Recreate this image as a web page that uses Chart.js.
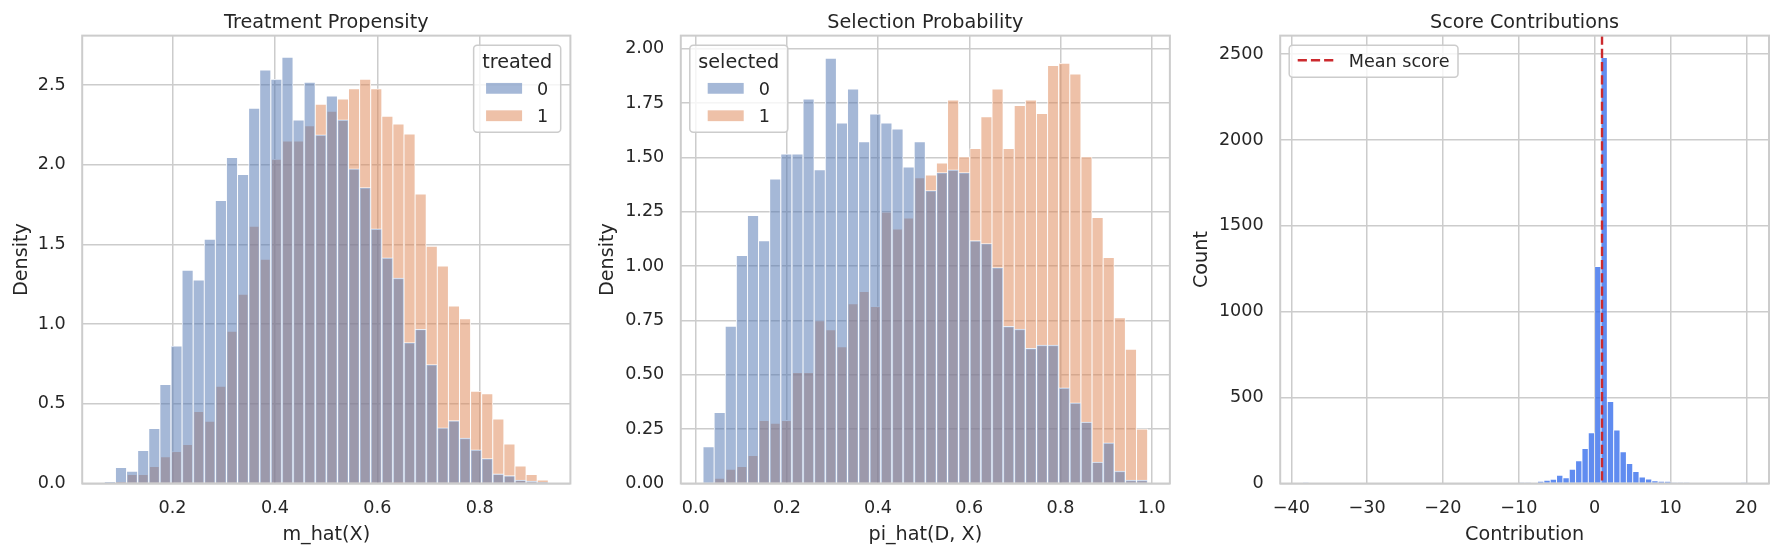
<!DOCTYPE html>
<html>
<head>
<meta charset="utf-8">
<title>Propensity diagnostics</title>
<script src="https://cdn.jsdelivr.net/npm/chart.js@4.4.1/dist/chart.umd.min.js"></script>
<style>
    html, body { margin: 0; padding: 0; background: #ffffff; }
    body { width: 1780px; height: 556px; position: relative; overflow: hidden; }
    canvas { position: absolute; top: 0; }
</style>
</head>
<body>
<canvas id="treat-chart" width="585" height="556" style="left:0px"></canvas>
<canvas id="select-chart" width="595" height="556" style="left:585px"></canvas>
<canvas id="score-chart" width="600" height="556" style="left:1180px"></canvas>
<script>
// ---- Treatment propensity: density histogram, 40 common bins ----
const treatBinStart = 0.0672;
const treatBinWidth = 0.02166;
const treated0 = [0.010, 0.100, 0.076, 0.207, 0.345, 0.621, 0.862, 1.338, 1.276, 1.532,
                  1.776, 2.046, 1.939, 2.355, 2.594, 2.536, 2.674, 2.280, 2.518, 2.188,
                  2.431, 2.282, 1.975, 1.857, 1.598, 1.416, 1.289, 0.884, 0.968, 0.746,
                  0.350, 0.394, 0.285, 0.211, 0.156, 0.060, 0.049, 0.022, 0.015, 0.008];
const treated1 = [0.000, 0.010, 0.056, 0.056, 0.107, 0.167, 0.200, 0.245, 0.452, 0.390,
                  0.610, 0.955, 1.187, 1.614, 1.407, 2.035, 2.148, 2.148, 2.244, 2.380,
                  2.335, 2.413, 2.476, 2.536, 2.476, 2.304, 2.255, 2.193, 1.817, 1.489,
                  1.365, 1.113, 1.033, 0.579, 0.563, 0.405, 0.247, 0.109, 0.056, 0.022];
const treatXTicks = [0.2, 0.4, 0.6, 0.8];
const treatYTicks = [0, 0.5, 1.0, 1.5, 2.0, 2.5];

// ---- Selection probability: density histogram, 40 common bins ----
const selBinStart = 0.016;
const selBinWidth = 0.02438;
const selected0 = [0.169, 0.326, 0.723, 1.049, 1.233, 1.116, 1.401, 1.516, 1.516, 1.769,
                   1.443, 1.956, 1.658, 1.814, 1.572, 1.700, 1.658, 1.630, 1.456, 1.572,
                   1.347, 1.430, 1.443, 1.430, 1.117, 1.104, 0.993, 0.723, 0.710, 0.622,
                   0.637, 0.637, 0.440, 0.371, 0.283, 0.099, 0.187, 0.057, 0.016, 0.016];
const selected1 = [0.000, 0.024, 0.065, 0.078, 0.129, 0.290, 0.277, 0.290, 0.510, 0.510,
                   0.749, 0.707, 0.629, 0.827, 0.883, 0.814, 1.249, 1.171, 1.221, 1.406,
                   1.419, 1.474, 1.764, 1.503, 1.541, 1.687, 1.814, 1.541, 1.738, 1.764,
                   1.702, 1.922, 1.933, 1.883, 1.503, 1.223, 1.039, 0.762, 0.617, 0.251];
const selXTicks = [0.0, 0.2, 0.4, 0.6, 0.8, 1.0];
const selYTicks = [0, 0.25, 0.5, 0.75, 1.0, 1.25, 1.5, 1.75, 2.0];

// ---- Score contributions: count histogram, 70 bins ----
const scoreBinStart = -38.5;
const scoreBinWidth = 0.8371;
const scoreCounts = [
    1, 0, 0, 0, 0, 0, 0, 0, 0, 0,
    0, 0, 0, 0, 0, 0, 0, 0, 0, 0,
    0, 0, 0, 0, 0, 0, 0, 0, 0, 0,
    0, 0, 0, 0, 4, 4, 0, 13, 19, 24,
    48, 34, 83, 133, 203, 296, 1263, 2480, 477, 312,
    185, 117, 69, 38, 26, 16, 13, 11, 4, 4,
    4, 0, 0, 0, 0, 0, 0, 0, 0, 1
];
const meanScore = 0.98;
const scoreXTicks = [-40, -30, -20, -10, 0, 10, 20];
const scoreYTicks = [0, 500, 1000, 1500, 2000, 2500];

// ---- styling ----
const FONT = "'DejaVu Sans', sans-serif";
const TEXT = '#262626';
const GRID = '#cccccc';
const BLUE = 'rgba(76, 114, 176, 0.5)';
const ORANGE = 'rgba(221, 132, 82, 0.5)';
const SCORE_BLUE = 'rgba(43, 102, 235, 0.75)';
const MEAN_RED = '#cc2a2e';
const TICK_SIZE = 17.6;
const LABEL_SIZE = 19.2;
const X_AXIS_H = 72.5;

Chart.defaults.font.family = FONT;
Chart.defaults.color = TEXT;

function binCenters(start, width, n) {
    return Array.from({ length: n }, (_, i) => start + (i + 0.5) * width);
}

function toPoints(centers, values) {
    return values.map((y, i) => ({ x: centers[i], y: y }));
}

function minusFormat(v) {
    return v < 0 ? '\u2212' + Math.abs(v) : String(v);
}

function roundRectPath(ctx, x, y, w, h, r) {
    ctx.moveTo(x + r, y);
    ctx.lineTo(x + w - r, y);
    ctx.arcTo(x + w, y, x + w, y + r, r);
    ctx.lineTo(x + w, y + h - r);
    ctx.arcTo(x + w, y + h, x + w - r, y + h, r);
    ctx.lineTo(x + r, y + h);
    ctx.arcTo(x, y + h, x, y + h - r, r);
    ctx.lineTo(x, y + r);
    ctx.arcTo(x, y, x + r, y, r);
    ctx.closePath();
}

// Full axes frame (matplotlib spines on all four sides)
const framePlugin = {
    id: 'frame',
    afterDatasetsDraw(chart) {
        const { ctx, chartArea: a } = chart;
        ctx.save();
        ctx.strokeStyle = GRID;
        ctx.lineWidth = 2;
        ctx.strokeRect(a.left, a.top, a.right - a.left, a.bottom - a.top);
        ctx.restore();
    }
};

// Vertical dashed line at a data value (axvline)
const meanLinePlugin = {
    id: 'meanLine',
    afterDatasetsDraw(chart, args, opts) {
        if (!opts || opts.value === undefined) return;
        const { ctx, chartArea: a } = chart;
        const x = chart.scales.x.getPixelForValue(opts.value);
        ctx.save();
        ctx.strokeStyle = opts.color;
        ctx.lineWidth = 2.4;
        ctx.setLineDash([9.2, 4]);
        ctx.beginPath();
        ctx.moveTo(x, a.top);
        ctx.lineTo(x, a.bottom);
        ctx.stroke();
        ctx.restore();
    }
};

// Legend drawn inside the axes, in a rounded box
const boxLegendPlugin = {
    id: 'boxLegend',
    afterDraw(chart, args, opts) {
        if (!opts || !opts.items) return;
        const ctx = chart.ctx;
        const area = chart.chartArea;
        const labelFont = TICK_SIZE + 'px ' + FONT;
        const titleFont = LABEL_SIZE + 'px ' + FONT;
        const handleW = 36, gap = 15, padX = 8.5;

        ctx.save();
        ctx.font = labelFont;
        const labelW = Math.max(...opts.items.map(it => ctx.measureText(it.label).width));
        const entriesW = handleW + gap + labelW;
        let titleW = 0;
        if (opts.title) {
            ctx.font = titleFont;
            titleW = ctx.measureText(opts.title).width;
        }
        const boxW = Math.max(entriesW, titleW) + 2 * padX;
        const boxH = opts.title ? 87 : 32;
        const x0 = opts.corner === 'right' ? area.right - 9.7 - boxW : area.left + 9;
        const y0 = area.top + 9.6;

        ctx.beginPath();
        roundRectPath(ctx, x0, y0, boxW, boxH, 3.5);
        ctx.fillStyle = 'rgba(255, 255, 255, 0.8)';
        ctx.fill();
        ctx.strokeStyle = GRID;
        ctx.lineWidth = 1.5;
        ctx.stroke();

        ctx.textBaseline = 'alphabetic';
        let rowY = y0 + 15;
        if (opts.title) {
            ctx.font = titleFont;
            ctx.fillStyle = TEXT;
            ctx.textAlign = 'center';
            ctx.fillText(opts.title, x0 + boxW / 2, y0 + 23);
            rowY = y0 + 43.1;
        }
        const ex = x0 + (boxW - entriesW) / 2;
        ctx.font = labelFont;
        ctx.textAlign = 'left';
        opts.items.forEach(it => {
            if (it.kind === 'dash') {
                ctx.strokeStyle = it.color;
                ctx.lineWidth = 2.4;
                ctx.setLineDash([9.2, 4]);
                ctx.beginPath();
                ctx.moveTo(ex, rowY);
                ctx.lineTo(ex + handleW, rowY);
                ctx.stroke();
                ctx.setLineDash([]);
            } else {
                ctx.fillStyle = it.color;
                ctx.fillRect(ex, rowY - 5.4, handleW, 10.8);
            }
            ctx.fillStyle = TEXT;
            ctx.fillText(it.label, ex + handleW + gap, rowY + 6.4);
            rowY += 27.4;
        });
        ctx.restore();
    }
};

function xAxis(cfg) {
    return {
        type: 'linear',
        min: cfg.min,
        max: cfg.max,
        offset: false,
        afterBuildTicks: s => { s.ticks = cfg.ticks.map(v => ({ value: v })); },
        afterFit: s => { s.height = X_AXIS_H; },
        grid: { color: GRID, lineWidth: 1.5, drawTicks: false, offset: false },
        border: { display: false },
        ticks: {
            padding: 14, color: TEXT, autoSkip: false, maxRotation: 0,
            font: { family: FONT, size: TICK_SIZE },
            callback: cfg.format
        },
        title: {
            display: true, text: cfg.title, color: TEXT,
            font: { family: FONT, size: LABEL_SIZE },
            padding: { top: 0, bottom: 9.8 }
        }
    };
}

function yAxis(cfg) {
    return {
        min: 0,
        max: cfg.max,
        afterBuildTicks: s => { s.ticks = cfg.ticks.map(v => ({ value: v })); },
        afterFit: s => { s.width = cfg.width; },
        grid: { color: GRID, lineWidth: 1.5, drawTicks: false },
        border: { display: false },
        ticks: {
            padding: 16.5, color: TEXT, autoSkip: false,
            font: { family: FONT, size: TICK_SIZE },
            callback: cfg.format
        },
        title: {
            display: true, text: cfg.title, color: TEXT,
            font: { family: FONT, size: LABEL_SIZE },
            padding: { top: cfg.titlePad, bottom: 0 }
        }
    };
}

function histDataset(label, points, color, border) {
    return {
        label: label,
        data: points,
        backgroundColor: color,
        borderColor: border,
        borderWidth: 0.8,
        categoryPercentage: 1,
        barPercentage: 1,
        grouped: false
    };
}

function baseOptions(title, rightPad, legend, xCfg, yCfg, extra) {
    return {
        responsive: false,
        animation: false,
        events: [],
        layout: { padding: { left: 0, right: rightPad, top: 0, bottom: 0 } },
        plugins: Object.assign({
            legend: { display: false },
            tooltip: { enabled: false },
            title: {
                display: true, text: title, fullSize: false, color: TEXT,
                font: { family: FONT, size: LABEL_SIZE, weight: 'normal' },
                padding: { top: 11.2, bottom: 1.4 }
            },
            boxLegend: legend
        }, extra || {}),
        scales: { x: xAxis(xCfg), y: yAxis(yCfg) }
    };
}

// Treatment propensity
const treatCenters = binCenters(treatBinStart, treatBinWidth, treated0.length);
new Chart(document.getElementById('treat-chart'), {
    type: 'bar',
    data: {
        datasets: [
            histDataset('0', toPoints(treatCenters, treated0), BLUE, '#ffffff'),
            histDataset('1', toPoints(treatCenters, treated1), ORANGE, '#ffffff')
        ]
    },
    options: baseOptions('Treatment Propensity', 14.6,
        { title: 'treated', corner: 'right', items: [
            { label: '0', color: BLUE }, { label: '1', color: ORANGE }] },
        { min: 0.0239, max: 0.9768, ticks: treatXTicks, title: 'm_hat(X)', format: v => v.toFixed(1) },
        { max: 2.81, ticks: treatYTicks, width: 82.2, title: 'Density', titlePad: 10, format: v => v.toFixed(1) }),
    plugins: [framePlugin, boxLegendPlugin]
});

// Selection probability
const selCenters = binCenters(selBinStart, selBinWidth, selected0.length);
new Chart(document.getElementById('select-chart'), {
    type: 'bar',
    data: {
        datasets: [
            histDataset('0', toPoints(selCenters, selected0), BLUE, '#ffffff'),
            histDataset('1', toPoints(selCenters, selected1), ORANGE, '#ffffff')
        ]
    },
    options: baseOptions('Selection Probability', 9.7,
        { title: 'selected', corner: 'left', items: [
            { label: '0', color: BLUE }, { label: '1', color: ORANGE }] },
        { min: -0.0327, max: 1.040, ticks: selXTicks, title: 'pi_hat(D, X)', format: v => v.toFixed(1) },
        { max: 2.06, ticks: selYTicks, width: 95.8, title: 'Density', titlePad: 11.9, format: v => v.toFixed(2) }),
    plugins: [framePlugin, boxLegendPlugin]
});

// Score contributions
const scoreCenters = binCenters(scoreBinStart, scoreBinWidth, scoreCounts.length);
new Chart(document.getElementById('score-chart'), {
    type: 'bar',
    data: {
        datasets: [
            histDataset('Contribution', toPoints(scoreCenters, scoreCounts), SCORE_BLUE, 'rgba(255, 255, 255, 0.6)')
        ]
    },
    options: baseOptions('Score Contributions', 11,
        { corner: 'left', items: [{ label: 'Mean score', color: MEAN_RED, kind: 'dash' }] },
        { min: -41.46, max: 23.0, ticks: scoreXTicks, title: 'Contribution', format: minusFormat },
        { max: 2608, ticks: scoreYTicks, width: 100.2, title: 'Count', titlePad: 10.1, format: v => String(v) },
        { meanLine: { value: meanScore, color: MEAN_RED } }),
    plugins: [meanLinePlugin, framePlugin, boxLegendPlugin]
});
</script>
</body>
</html>
